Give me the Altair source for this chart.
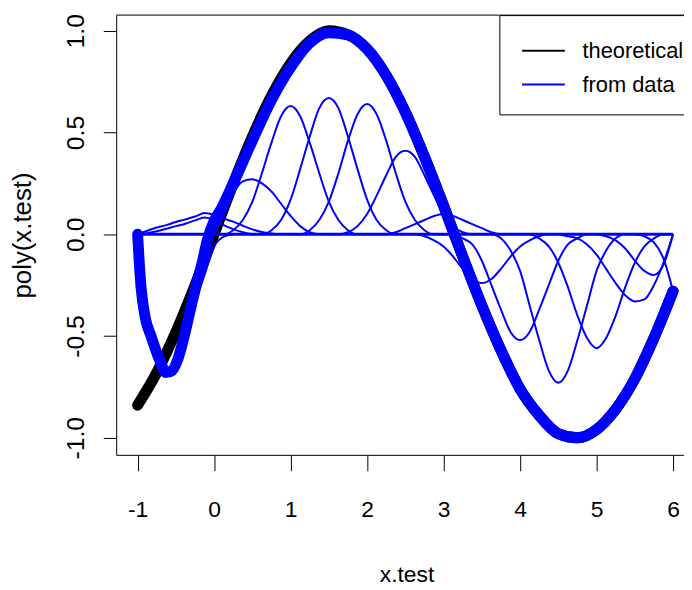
import altair as alt
import pandas as pd

# ---------------- data ----------------
# theoretical curve (black band)
theory_x = [-1.0, -0.75, -0.5, -0.25, 0.0, 0.25, 0.5, 0.75, 1.0, 1.25, 1.5, 1.75, 2.0,
            2.25, 2.5, 2.75, 3.0, 3.25, 3.5, 3.75, 4.0, 4.25, 4.5, 4.75, 5.0, 5.25,
            5.5, 5.75, 6.0]
theory_y = [-0.84, -0.68, -0.48, -0.25, 0.0, 0.25, 0.48, 0.68, 0.84, 0.95, 1.0, 0.98,
            0.91, 0.78, 0.6, 0.38, 0.14, -0.11, -0.35, -0.57, -0.76, -0.89, -0.98,
            -1.0, -0.96, -0.86, -0.71, -0.51, -0.28]

# fitted curve (blue band)
fit_x = [-1.0, -0.98, -0.955, -0.9, -0.825, -0.7, -0.63, -0.55, -0.48, -0.39, -0.31,
         -0.24, -0.15, -0.09, 0.0, 0.1, 0.25, 0.5, 0.75, 1.0, 1.25, 1.5, 1.75, 2.0,
         2.25, 2.5, 2.75, 3.0, 3.25, 3.5, 3.75, 4.0, 4.25, 4.5, 4.75, 5.0, 5.25, 5.5,
         5.75, 6.0]
fit_y = [0.0, -0.13, -0.26, -0.41, -0.5, -0.63, -0.68, -0.67, -0.62, -0.5, -0.37,
         -0.26, -0.13, -0.03, 0.065, 0.13, 0.25, 0.46, 0.66, 0.82, 0.94, 0.99, 0.98,
         0.91, 0.78, 0.6, 0.38, 0.14, -0.11, -0.35, -0.57, -0.76, -0.89, -0.98, -1.0,
         -0.96, -0.86, -0.71, -0.51, -0.28]

# sampling positions of the thin component curves
grid = [-1.0, -0.875, -0.75, -0.625, -0.5, -0.375, -0.25, -0.125, 0.0, 0.125, 0.25,
        0.375, 0.5, 0.625, 0.75, 0.875, 1.0, 1.125, 1.25, 1.375, 1.5, 1.625, 1.75,
        1.875, 2.0, 2.125, 2.25, 2.375, 2.5, 2.625, 2.75, 2.875, 3.0, 3.125, 3.25,
        3.375, 3.5, 3.625, 3.75, 3.875, 4.0, 4.125, 4.25, 4.375, 4.5, 4.625, 4.75,
        4.875, 5.0, 5.125, 5.25, 5.375, 5.5, 5.625, 5.75, 5.875, 6.0]

# component curves: (first grid index, values)
comp_k1 = (0, [0.0, 0.017, 0.033, 0.045, 0.06, 0.073, 0.087, 0.104, 0.095, 0.077, 0.062,
               0.042, 0.024, 0.011, 0.004, 0.0])
comp_k2 = (0, [0.0, 0.005, 0.015, 0.027, 0.04, 0.052, 0.068, 0.082, 0.07, 0.045, 0.025,
               0.01, 0.0])
comp_k3 = (0, [0.0, -0.45, -0.6, -0.68, -0.66, -0.52, -0.34, -0.2, -0.06, -0.012, 0.0])
comp_b5 = (8, [0.0, 0.09, 0.2, 0.26, 0.27, 0.25, 0.21, 0.15, 0.09, 0.04, 0.01, 0.0])
comp_b6 = (8, [0.0, 0.0, 0.02, 0.07, 0.16, 0.30, 0.45, 0.58, 0.63, 0.58, 0.45, 0.30,
               0.16, 0.07, 0.02, 0.0, 0.0])
comp_b7 = (12, [0.0, 0.0, 0.02, 0.07, 0.17, 0.32, 0.48, 0.62, 0.67, 0.62, 0.48, 0.32,
                0.17, 0.07, 0.02, 0.0, 0.0])
comp_b8 = (16, [0.0, 0.0, 0.02, 0.07, 0.16, 0.30, 0.46, 0.59, 0.64, 0.59, 0.46, 0.30,
                0.16, 0.07, 0.02, 0.0, 0.0])
comp_b9 = (20, [0.0, 0.0, 0.01, 0.04, 0.10, 0.19, 0.29, 0.38, 0.41, 0.38, 0.29, 0.19,
                0.10, 0.04, 0.01, 0.0, 0.0])
comp_b10 = (24, [0.0, 0.0, 0.0, 0.01, 0.03, 0.05, 0.07, 0.09, 0.10, 0.09, 0.07, 0.05,
                 0.03, 0.01, 0.0, 0.0, 0.0])
comp_b11 = (28, [0.0, 0.0, -0.01, -0.03, -0.06, -0.11, -0.17, -0.22, -0.24, -0.22,
                 -0.17, -0.11, -0.06, -0.03, -0.01, 0.0, 0.0])
comp_b12 = (32, [0.0, 0.0, -0.02, -0.05, -0.13, -0.25, -0.37, -0.48, -0.52, -0.48,
                 -0.37, -0.25, -0.13, -0.05, -0.02, 0.0, 0.0])
comp_b13 = (36, [0.0, 0.0, -0.02, -0.08, -0.18, -0.35, -0.52, -0.67, -0.73, -0.67,
                 -0.52, -0.35, -0.18, -0.08, -0.02, 0.0, 0.0])
comp_b14 = (40, [0.0, 0.0, -0.02, -0.06, -0.14, -0.26, -0.40, -0.51, -0.56, -0.51,
                 -0.40, -0.26, -0.14, -0.06, -0.02, 0.0, 0.0])
comp_b15 = (44, [0.0, -0.01, -0.02, -0.05, -0.1, -0.17, -0.24, -0.3, -0.33, -0.32,
                 -0.25, -0.14, 0.0])
comp_b16 = (48, [0.0, -0.01, -0.03, -0.07, -0.13, -0.18, -0.2, -0.15, 0.0])
comp_b17 = (52, [0.0, -0.01, -0.04, -0.12, -0.28])
comp_zero = (0, [0.0] * 57)

components = [comp_k1, comp_k2, comp_k3, comp_b5, comp_b6, comp_b7, comp_b8,
              comp_b9, comp_b10, comp_b11, comp_b12, comp_b13, comp_b14, comp_b15,
              comp_b16, comp_b17]

series_names = ["theoretical", "from data"]
series_colors = ["#000000", "#0000ff"]
x_ticks = [-1, 0, 1, 2, 3, 4, 5, 6]
y_ticks = [-1.0, -0.5, 0.0, 0.5, 1.0]

# ---------------- tables ----------------
bands = pd.concat([
    pd.DataFrame({"x": theory_x, "y": theory_y, "series": series_names[0], "k": 0}),
    pd.DataFrame({"x": fit_x, "y": fit_y, "series": series_names[1], "k": 1}),
], ignore_index=True)

rows = []
for ci, (i0, vals) in enumerate(components):
    for j, v in enumerate(vals):
        rows.append({"x": grid[i0 + j], "y": v, "curve": ci})
thin = pd.DataFrame(rows)

zero_line = pd.DataFrame({"x": grid[comp_zero[0]:comp_zero[0] + len(comp_zero[1])],
                          "y": comp_zero[1]})

W, H = 572, 443
SANS = "Liberation Sans, Arial, sans-serif"

x_scale = alt.Scale(domain=[-1.28, 6.143], nice=False, zero=False)
y_scale = alt.Scale(domain=[-1.084, 1.077], nice=False, zero=False)

x_axis = alt.Axis(
    values=x_ticks, grid=False,
    labelExpr="datum.value < 0 ? '-' + format(-datum.value, 'd') : format(datum.value, 'd')",
    tickSize=16, tickColor="black", tickWidth=1,
    domainColor="black", domainWidth=1,
    labelFont=SANS, labelFontSize=23, labelColor="black",
    labelPadding=46, labelBaseline="alphabetic", labelAngle=0,
    labelFlush=False, labelOverlap=False,
    title="x.test", titleFont=SANS, titleFontSize=23, titleFontWeight="normal",
    titleColor="black", titleX=292.5, titleY=128, titleAlign="center",
    titleBaseline="alphabetic", titleAngle=0,
)
y_axis = alt.Axis(
    values=y_ticks, grid=False,
    labelExpr="datum.value < 0 ? '-' + format(-datum.value, '.1f') : format(datum.value, '.1f')",
    tickSize=13, tickColor="black", tickWidth=1,
    domainColor="black", domainWidth=1,
    labelFont=SANS, labelFontSize=25, labelColor="black",
    labelAngle=-90, labelAlign="center", labelBaseline="alphabetic",
    labelPadding=20, labelFlush=False, labelOverlap=False,
    title="poly(x.test)", titleFont=SANS, titleFontSize=26, titleFontWeight="normal",
    titleColor="black", titleX=-86, titleY=221.5, titleAlign="center",
    titleBaseline="alphabetic", titleAngle=-90,
)

legend = alt.Legend(
    orient="none", legendX=386, legendY=0, title=None,
    strokeColor="black", fillColor="white", padding=19,
    symbolType="M-1.344,0L1.344,0", symbolSize=1024, symbolStrokeWidth=2,
    symbolOffset=8.4, labelFont=SANS, labelFontSize=22, labelColor="black",
    labelOffset=22.3, rowPadding=6, labelLimit=300,
)

band_layer = alt.Chart(bands).mark_line(
    strokeWidth=11, strokeCap="round", strokeJoin="round", interpolate="monotone"
).encode(
    x=alt.X("x:Q", scale=x_scale, axis=x_axis),
    y=alt.Y("y:Q", scale=y_scale, axis=y_axis),
    color=alt.Color("series:N", scale=alt.Scale(domain=series_names, range=series_colors),
                    legend=legend),
    detail="k:N",
)

zero_layer = alt.Chart(zero_line).mark_line(strokeWidth=3, color="#0000ff").encode(
    x=alt.X("x:Q", scale=x_scale),
    y=alt.Y("y:Q", scale=y_scale),
)

thin_layer = alt.Chart(thin).mark_line(
    strokeWidth=2, color="#0000ff", interpolate="monotone"
).encode(
    x=alt.X("x:Q", scale=x_scale),
    y=alt.Y("y:Q", scale=y_scale),
    detail="curve:N",
)

top_border = alt.Chart(pd.DataFrame({"a": [0]})).mark_rule(
    color="black", strokeWidth=1
).encode(x=alt.value(0), x2=alt.value(W), y=alt.value(0))

chart = alt.layer(band_layer, zero_layer, thin_layer, top_border).properties(
    width=W, height=H,
    autosize=alt.AutoSizeParams(type="none"),
    padding={"left": 109, "top": 5, "right": 0, "bottom": 134},
    background="white",
).configure_view(strokeWidth=0)

chart.save("out.html", embed_options={"renderer": "svg", "actions": False})
